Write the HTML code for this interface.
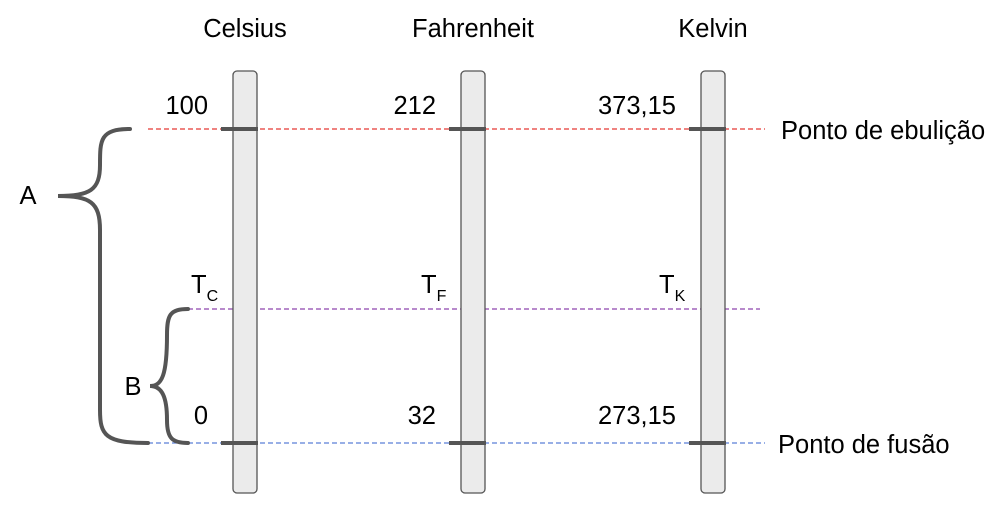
<!DOCTYPE html>
<html><head><meta charset="utf-8"><style>
html,body{margin:0;padding:0;background:#fff;}
svg{display:block;font-family:"Liberation Sans",sans-serif;}
</style></head><body>
<svg id="chart" width="1007" height="508" viewBox="0 0 1007 508">
<g id="lines"></g>
<g id="bars"></g>
<g id="braces" fill="none" stroke="#555" stroke-width="4" stroke-linecap="round">
  <path d="M130,129 C100,129 100,140 100,165 C100,190 90,196 58,196 C90,196 100,202 100,230 L100,410 C100,435 105,443 148,443"/>
  <path d="M188,309 C170,309 167,315 167,335 C167,375 162,386 150,386 C162,386 167,397 167,420 C167,438 172,443 188,443"/>
</g>
<g font-size="25.5" fill="#000">
  <text x="28" y="204" text-anchor="middle">A</text>
  <text x="133" y="395" text-anchor="middle">B</text>
  <text x="781" y="139">Ponto de ebulição</text>
  <text x="778" y="453">Ponto de fusão</text>
</g>
<g id="labels" font-size="25.5" fill="#000"></g>
</svg>
<script>
const scaleNames = ["Celsius", "Fahrenheit", "Kelvin"];
const boilingValues = ["100", "212", "373,15"];
const meltingValues = ["0", "32", "273,15"];
const symbols = ["C", "F", "K"];
const levels = { boil: 129, temp: 309, melt: 443 };
const barX = [245, 473, 713];
const ns = "http://www.w3.org/2000/svg";
function mk(tag, attrs, parent, txt){const e=document.createElementNS(ns,tag);for(const k in attrs)e.setAttribute(k,attrs[k]);if(txt!==undefined)e.textContent=txt;parent.appendChild(e);return e;}
const L=document.getElementById("lines"),B=document.getElementById("bars"),T=document.getElementById("labels");
let l;
l=mk("line",{x1:148,x2:765,y1:levels.boil,y2:levels.boil,stroke:"#e53935","stroke-dasharray":"5,3","stroke-width":1.2},L);


l=mk("line",{x1:188,x2:760,y1:levels.temp,y2:levels.temp,stroke:"#8e44ad","stroke-dasharray":"5,3","stroke-width":1.2},L);


l=mk("line",{x1:148,x2:765,y1:levels.melt,y2:levels.melt,stroke:"#5b7fd6","stroke-dasharray":"5,3","stroke-width":1.2},L);


scaleNames.forEach((n,i)=>{
  const cx=barX[i];
  const r=mk("rect",{x:cx-12,y:71,width:24,height:422,rx:4,fill:"#ebebeb",stroke:"#555","stroke-width":1.3},B);
  
  
  [levels.boil,levels.melt].forEach(y=>{
    const t=mk("line",{x1:cx-24,x2:cx+13,y1:y,y2:y,stroke:"#555","stroke-width":4},B);
    
    
  });
  let tx=mk("text",{x:cx,y:37,"text-anchor":"middle"},T,n);
  
  
  tx=mk("text",{x:cx-37,y:114,"text-anchor":"end"},T,boilingValues[i]);
  
  
  tx=mk("text",{x:cx-37,y:424,"text-anchor":"end"},T,meltingValues[i]);
  
  
  const g=mk("text",{x:cx-(i===1?52:54),y:293},T);
  
  
  mk("tspan",{},g,"T");
  mk("tspan",{dy:8,"font-size":16},g,symbols[i]);
});
</script>
</body></html>
